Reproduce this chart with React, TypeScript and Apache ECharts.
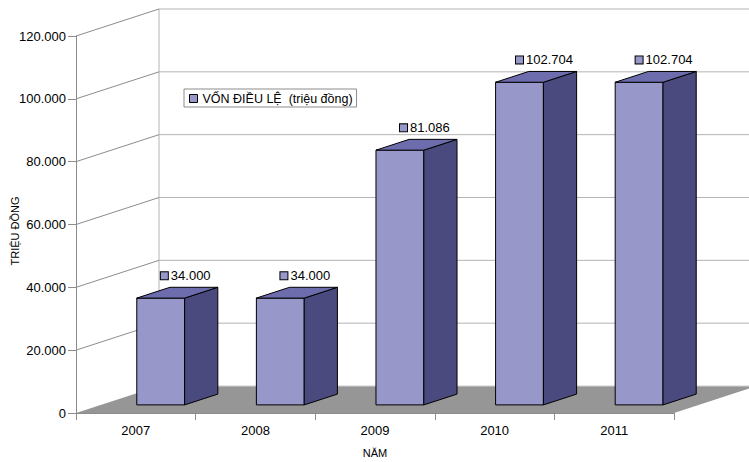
import React, { useEffect, useRef } from "react";
import * as echarts from "echarts";

const years = ["2007", "2008", "2009", "2010", "2011"];
const capital = [34000, 34000, 81086, 102704, 102704];
const yTicks = [0, 20000, 40000, 60000, 80000, 100000, 120000];
const seriesName = "VỐN ĐIỀU LỆ  (triệu đồng)";
const yTitle = "TRIỆU ĐỒNG";
const xTitle = "NĂM";

const DX = 83;
const DY = -27;
const FONT = "'Liberation Sans', Arial, sans-serif";
const FRONT = "#9797c9";
const SIDE = "#4a4a7e";
const TOP = "#6d6dae";
const GRID = "#b4b4b4";
const AXIS = "#8c8c8c";
const FLOOR = "#969696";

const fmt = (n: number) =>
  Math.round(n).toString().replace(/\B(?=(\d{3})+(?!\d))/g, ".");

export default function App() {
  const ref = useRef<HTMLDivElement>(null);
  useEffect(() => {
    if (!ref.current) return;
    const chart = echarts.init(ref.current, undefined, { renderer: "svg" });
    const n = years.length;
    const option: any = {
      animation: false,
      backgroundColor: "#ffffff",
      textStyle: { fontFamily: FONT },
      grid: { left: 76, top: 36, width: 598, height: 377, containLabel: false },
      legend: {
        left: 184,
        top: 89,
        orient: "horizontal",
        padding: [3, 4, 2, 5],
        borderColor: AXIS,
        borderWidth: 1,
        backgroundColor: "#ffffff",
        icon: "rect",
        itemWidth: 8,
        itemHeight: 8,
        itemStyle: { borderColor: "#000", borderWidth: 1 },
        textStyle: { fontFamily: FONT, fontSize: 12.5, color: "#000" },
        data: [seriesName],
      },
      xAxis: {
        type: "category",
        data: years,
        z: 10,
        boundaryGap: true,
        axisLine: { show: true, lineStyle: { color: AXIS, width: 1 } },
        axisTick: { show: true, length: 7, lineStyle: { color: AXIS } },
        axisLabel: { margin: 11, fontSize: 13, color: "#000", fontFamily: FONT },
        splitLine: { show: false },
      },
      yAxis: {
        type: "value",
        min: 0,
        max: 120000,
        interval: 20000,
        z: 10,
        axisLine: { show: true, lineStyle: { color: AXIS, width: 1 } },
        axisTick: { show: true, length: 8, lineStyle: { color: AXIS } },
        axisLabel: {
          margin: 10,
          fontSize: 13,
          color: "#000",
          fontFamily: FONT,
          formatter: (v: number) => fmt(v),
        },
        splitLine: { show: false },
      },
      graphic: [
        {
          type: "text",
          x: 15,
          y: 231,
          rotation: Math.PI / 2,
          style: {
            text: yTitle,
            fontSize: 11,
            fontFamily: FONT,
            fill: "#000",
            align: "center",
            verticalAlign: "middle",
          },
        },
        {
          type: "text",
          x: 375,
          y: 453,
          style: {
            text: xTitle,
            fontSize: 11,
            fontFamily: FONT,
            fill: "#000",
            align: "center",
            verticalAlign: "middle",
          },
        },
      ],
      series: [
        {
          type: "custom",
          name: "frame",
          z: 1,
          clip: false,
          silent: true,
          data: yTicks.map((v) => [v]),
          renderItem: (params: any, api: any) => {
            const v = api.value(0);
            const band = api.size([1, 0])[0];
            const p0 = api.coord([0, v]);
            const pN = api.coord([n - 1, v]);
            const L = p0[0] - band / 2;
            const R = pN[0] + band / 2;
            const y = p0[1];
            const children: any[] = [];
            if (v === 0) {
              children.push({
                type: "polygon",
                shape: { points: [[L, y], [R, y], [R + DX, y + DY], [L + DX, y + DY]] },
                style: { fill: FLOOR, stroke: null },
              });
              const top = api.coord([0, yTicks[yTicks.length - 1]]);
              children.push({
                type: "line",
                shape: { x1: L + DX, y1: y + DY, x2: L + DX, y2: top[1] + DY },
                style: { stroke: GRID, lineWidth: 1 },
              });
              children.push({
                type: "line",
                shape: { x1: L + DX, y1: y + DY, x2: R + DX, y2: y + DY },
                style: { stroke: "#cfcfcf", lineWidth: 1 },
              });
            } else {
              children.push({
                type: "line",
                shape: { x1: L, y1: y, x2: L + DX, y2: y + DY },
                style: { stroke: AXIS, lineWidth: 1 },
              });
              children.push({
                type: "line",
                shape: { x1: L + DX, y1: y + DY, x2: R + DX, y2: y + DY },
                style: { stroke: GRID, lineWidth: 1 },
              });
            }
            return { type: "group", children };
          },
        },
        {
          type: "custom",
          name: seriesName,
          z: 3,
          clip: false,
          itemStyle: { color: FRONT },
          data: capital.map((v, i) => [i, v]),
          renderItem: (params: any, api: any) => {
            const cat = api.value(0);
            const v = api.value(1);
            const band = api.size([1, 0])[0];
            const base = api.coord([cat, 0]);
            const topP = api.coord([cat, v]);
            const w = band * 0.4;
            const fx = DX * 0.3;
            const fy = DY * 0.3;
            const bx = DX * 0.4;
            const by = DY * 0.4;
            const x0 = base[0] - w / 2 + fx;
            const x1 = x0 + w;
            const yb = base[1] + fy;
            const yt = topP[1] + fy;
            const stroke = "#000";
            const lx = base[0] + fx + 25;
            const ly = yt + by - 11.5;
            return {
              type: "group",
              children: [
                {
                  type: "rect",
                  shape: { x: x0, y: yt, width: w, height: yb - yt },
                  style: { fill: FRONT, stroke, lineWidth: 1 },
                },
                {
                  type: "polygon",
                  shape: { points: [[x1, yb], [x1 + bx, yb + by], [x1 + bx, yt + by], [x1, yt]] },
                  style: { fill: SIDE, stroke, lineWidth: 1 },
                },
                {
                  type: "polygon",
                  shape: { points: [[x0, yt], [x1, yt], [x1 + bx, yt + by], [x0 + bx, yt + by]] },
                  style: { fill: TOP, stroke, lineWidth: 1 },
                },
                {
                  type: "text",
                  x: lx,
                  y: ly,
                  style: {
                    text: "{m|}{t|" + fmt(v) + "}",
                    fontSize: 13,
                    fontFamily: FONT,
                    fill: "#000",
                    align: "center",
                    verticalAlign: "middle",
                    rich: {
                      m: {
                        width: 7,
                        height: 7,
                        backgroundColor: FRONT,
                        borderColor: "#000",
                        borderWidth: 1,
                      },
                      t: {
                        fontSize: 13,
                        fontFamily: FONT,
                        fill: "#000",
                        padding: [0, 0, 0, 3],
                      },
                    },
                  },
                },
              ],
            };
          },
        },
      ],
    };
    chart.setOption(option);
    return () => chart.dispose();
  }, []);
  return (
    <div
      ref={ref}
      style={{ position: "fixed", left: 0, top: 0, width: 749, height: 462 }}
    />
  );
}
